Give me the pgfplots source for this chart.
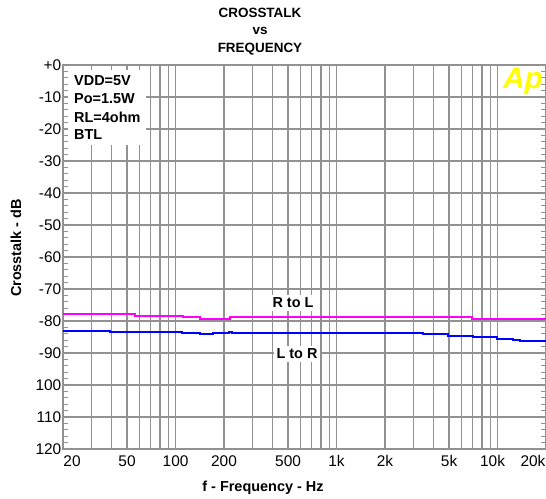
\documentclass[border=0pt]{standalone}
\usepackage{fontspec}
\setmainfont{Liberation Sans}
\usepackage{pgfplots}
\pgfplotsset{compat=1.18}
\definecolor{gridgray}{RGB}{145,145,145}
\definecolor{mag}{RGB}{255,0,255}
\definecolor{blu}{RGB}{0,0,255}
\definecolor{apyellow}{RGB}{255,255,0}
\begin{document}
\begin{tikzpicture}[x=1bp,y=1bp]
\begin{axis}[
  at={(0,0)}, anchor=south west,
  scale only axis, width=483bp, height=384bp,
  xmode=log, xmin=20, xmax=20000, ymin=-120, ymax=0,
  xtick={20,50,100,200,500,1000,2000,5000,10000,20000},
  xticklabels={\hspace*{18bp}20,50,100,200,500,1k,2k,5k,10k\hspace*{10bp},20k\hspace*{26bp}},
  minor xtick={30,40,60,70,80,90,300,400,600,700,800,900,3000,4000,6000,7000,8000,9000},
  ytick={0,-10,-20,-30,-40,-50,-60,-70,-80,-90,-100,-110,-120},
  yticklabels={+0,-10,-20,-30,-40,-50,-60,-70,-80,-90,100,110,120},
  minor ytick={-2,-4,...,-118},
  xmajorgrids, xminorgrids, ymajorgrids,
  grid style={gridgray, line width=1.3bp},
  major grid style={gridgray, line width=1.3bp},
  minor grid style={gridgray, line width=1.3bp},
  axis line style={gridgray, line width=1.3bp},
  tick style={gridgray, line width=1.2bp},
  major tick length=5bp, minor tick length=5bp,
  tick align=inside,
  ticklabel style={font=\fontsize{15.5}{17}\selectfont, text=black},
  yticklabel style={inner sep=1.5bp},
  xticklabel style={yshift=-3bp},
  clip=true,
]
\addplot[const plot, mag, line width=2bp] coordinates {
  (20,-77.9) (56,-78.4) (111,-78.9) (142,-79.4) (218,-78.9) (6920,-79.4) (20000,-79.4)};
\addplot[const plot, blu, line width=2bp] coordinates {
  (20,-83.0) (39,-83.4) (110,-83.8) (142,-84.2) (171,-83.8) (216,-83.4) (224,-83.8)
  (3440,-84.2) (4920,-84.7) (7040,-85.1) (9960,-85.5) (12400,-85.8) (13800,-86.25) (20000,-86.25)};
\end{axis}
% annotation box
\fill[white] (5,304) rectangle (83,379);
\begin{scope}[every node/.style={font=\fontsize{14.5}{17}\selectfont\bfseries, anchor=west, inner sep=0pt}]
\node at (11,368) {VDD=5V};
\node at (11,350) {Po=1.5W};
\node at (11,332) {RL=4ohm};
\node at (11,314) {BTL};
\end{scope}
% curve labels
\node[fill=white, inner sep=2.5bp, font=\fontsize{14.5}{17}\selectfont\bfseries] at (230,146) {R to L};
\node[fill=white, inner sep=2.5bp, font=\fontsize{14.5}{17}\selectfont\bfseries] at (234,95) {L to R};
% logo
\node[apyellow, font=\fontsize{30}{32}\selectfont\bfseries\itshape, inner sep=0pt] at (460,368) {Ap};
% titles
\begin{scope}[every node/.style={font=\fontsize{13.5}{16}\selectfont\bfseries, inner sep=0pt}]
\node at (197,436) {CROSSTALK};
\node at (197,418) {vs};
\node at (197,400) {FREQUENCY};
\end{scope}
\node[font=\fontsize{14.5}{17}\selectfont\bfseries, inner sep=0pt] at (200,-39) {f - Frequency - Hz};
\node[font=\fontsize{14.5}{17}\selectfont\bfseries, inner sep=0pt, rotate=90] at (-47,201) {Crosstalk - dB};
\pgfresetboundingbox
\path (-63,-50) rectangle (483,449);
\end{tikzpicture}
\end{document}
